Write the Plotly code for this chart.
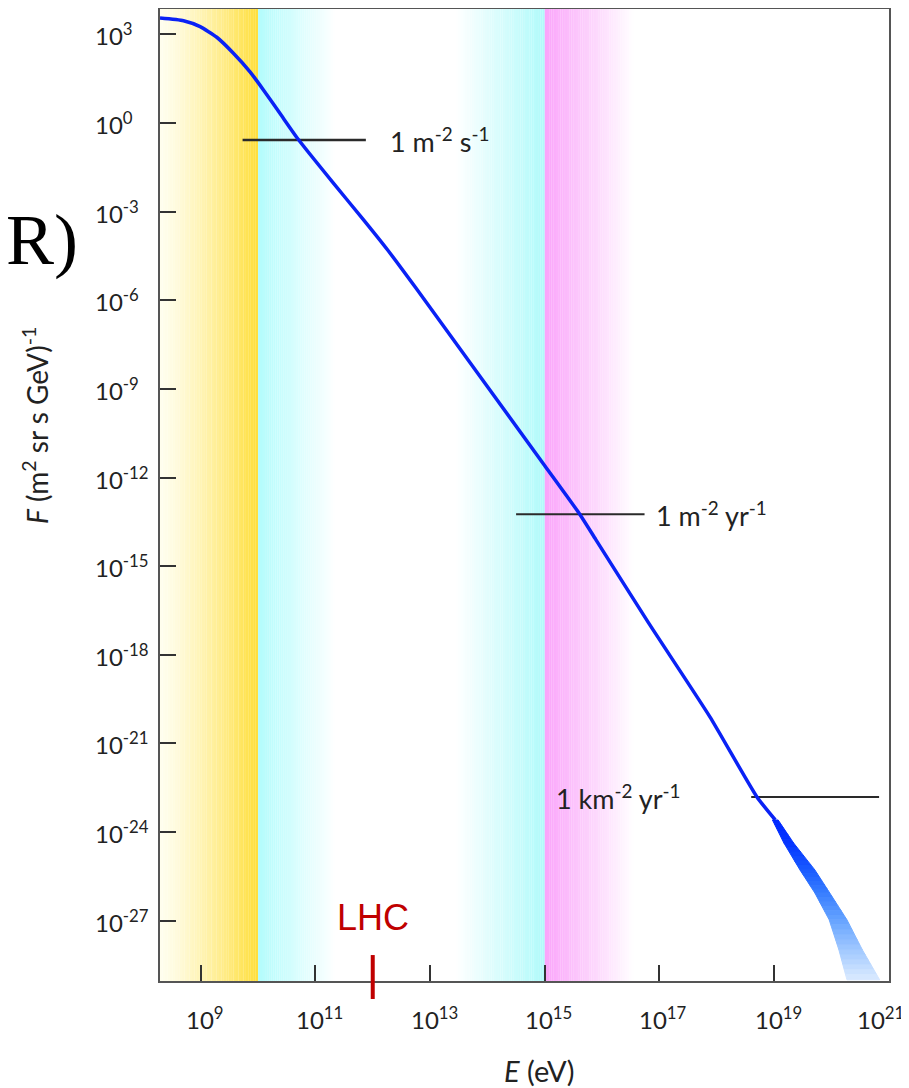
import plotly.graph_objects as go

# ---------------- data (log10 units) ----------------
# main cosmic-ray flux curve: log10(E/eV), log10(F)
curve_logE = [8.29, 8.70, 8.99, 9.28, 9.57, 9.86, 10.10, 10.39, 10.71, 11.31,
              11.84, 12.26, 12.75, 15.00, 15.61, 15.89, 16.81, 17.88, 18.70, 19.02]
curve_logF = [3.55, 3.46, 3.26, 2.90, 2.36, 1.73, 1.10, 0.30, -0.58, -2.03,
              -3.28, -4.30, -5.58, -11.60, -13.24, -14.10, -16.92, -20.10, -22.81, -23.59]

# uncertainty wedge at highest energies (flux levels, lower/upper energy bounds)
tail_logF = [-23.59, -24.37, -25.28, -26.06, -26.97, -27.99, -29.00]
tail_logE_lo = [18.97, 19.17, 19.45, 19.71, 19.96, 20.13, 20.27]
tail_logE_hi = [19.07, 19.34, 19.71, 19.97, 20.27, 20.54, 20.84]

# reference flux lines
ref_labels = ["1 m<sup>-2</sup> s<sup>-1</sup>", "1 m<sup>-2</sup> yr<sup>-1</sup>",
              "1 km<sup>-2</sup> yr<sup>-1</sup>"]
ref_logF = [-0.58, -13.24, -22.81]
ref_logE_start = [9.73, 14.50, 18.60]
ref_logE_end = [11.88, 16.74, 20.83]

# energy regions (log10 E)
band_edges = [8.29, 10.0, 11.35, 13.45, 15.0, 16.55]

# LHC marker
lhc_logE = 12.0

x_tick_exp = [9, 11, 13, 15, 17, 19, 21]
y_tick_exp = [3, 0, -3, -6, -9, -12, -15, -18, -21, -24, -27]

x_range = [8.29, 21.003]
y_range = [-29.04, 3.856]


def p10(v):
    return 10.0 ** float(v)


# ---------------- figure ----------------
FONT = "Lato, Open Sans, sans-serif"
TXT = "#222"
fig = go.Figure()


def lerp_color(c0, c1, t):
    return "rgb(%d,%d,%d)" % tuple(round(a + (b - a) * t) for a, b in zip(c0, c1))


def gradient(e0, e1, c0, c1, n=40, gamma=1.0):
    for i in range(n):
        a = e0 + (e1 - e0) * i / n
        b = e0 + (e1 - e0) * (i + 1.05) / n
        t = ((i + 0.5) / n) ** gamma
        fig.add_shape(type="rect", xref="x", yref="paper", x0=p10(a), x1=p10(min(b, e1)),
                      y0=0, y1=1, fillcolor=lerp_color(c0, c1, t), line_width=0, layer="below")


WHITE = (255, 255, 255)
gradient(band_edges[0], band_edges[1], (255, 254, 238), (255, 222, 58), gamma=1.3)
gradient(band_edges[1], band_edges[2], (178, 252, 252), WHITE)
gradient(band_edges[3], band_edges[4], WHITE, (176, 250, 250))
gradient(band_edges[4], band_edges[5], (250, 164, 250), WHITE)

# reference lines
for i in range(len(ref_logF)):
    fig.add_trace(go.Scatter(
        x=[p10(ref_logE_start[i]), p10(ref_logE_end[i])],
        y=[p10(ref_logF[i])] * 2, mode="lines",
        line=dict(color="#2a2a2a", width=2.5 if i == 0 else 2), hoverinfo="skip", showlegend=False))

# tail wedge with fading colour
wedge_cols = [(0, 40, 255), (5, 52, 255), (25, 90, 255), (55, 125, 255),
              (100, 162, 255), (160, 200, 255), (218, 234, 255)]
sub = 6
for k in range(len(tail_logF) - 1):
    for j in range(sub):
        t0, t1 = j / sub, (j + 1) / sub
        f0 = tail_logF[k] + (tail_logF[k + 1] - tail_logF[k]) * t0
        f1 = tail_logF[k] + (tail_logF[k + 1] - tail_logF[k]) * t1
        h0 = tail_logE_hi[k] + (tail_logE_hi[k + 1] - tail_logE_hi[k]) * t0
        h1 = tail_logE_hi[k] + (tail_logE_hi[k + 1] - tail_logE_hi[k]) * t1
        l0 = tail_logE_lo[k] + (tail_logE_lo[k + 1] - tail_logE_lo[k]) * t0
        l1 = tail_logE_lo[k] + (tail_logE_lo[k + 1] - tail_logE_lo[k]) * t1
        col = lerp_color(wedge_cols[k], wedge_cols[k + 1], (j + 0.5) / sub)
        fig.add_trace(go.Scatter(
            x=[p10(l0), p10(h0), p10(h1), p10(l1), p10(l0)],
            y=[p10(f0), p10(f0), p10(f1), p10(f1), p10(f0)],
            mode="lines", fill="toself", fillcolor=col, line=dict(width=1, color=col),
            hoverinfo="skip", showlegend=False))

# main curve
fig.add_trace(go.Scatter(
    x=[p10(v) for v in curve_logE], y=[p10(v) for v in curve_logF],
    mode="lines", line=dict(color="#0a22f5", width=3.5, shape="spline", smoothing=0.5),
    hoverinfo="skip", showlegend=False))

# ref labels
ref_label_x = [12.26, 16.91, 17.39]
ref_label_anchor = ["left", "left", "right"]
for i in range(len(ref_labels)):
    fig.add_annotation(x=ref_label_x[i], y=ref_logF[i], xref="x", yref="y",
                       text=ref_labels[i], showarrow=False, xanchor=ref_label_anchor[i],
                       yanchor="middle", font=dict(family=FONT, size=27, color=TXT))

# tick labels (y labels are left-aligned in the original)
for e in y_tick_exp:
    fig.add_annotation(x=-0.0919, y=e, xref="paper", yref="y", text="10<sup>%d</sup>" % e,
                       showarrow=False, xanchor="left", yanchor="middle",
                       font=dict(family=FONT, size=24, color=TXT))
for e in x_tick_exp:
    fig.add_annotation(x=e, y=-0.038, xref="x", yref="paper", text="10<sup>%d</sup>" % e,
                       showarrow=False, xanchor="center", yanchor="middle",
                       xshift=-8 if e == x_tick_exp[-1] else 4,
                       font=dict(family=FONT, size=24, color=TXT))

# LHC
fig.add_shape(type="line", xref="x", yref="paper", x0=p10(lhc_logE), x1=p10(lhc_logE),
              y0=0.0267, y1=-0.0185, line=dict(color="#c00000", width=4))
fig.add_annotation(x=lhc_logE, y=0.065, xref="x", yref="paper", text="LHC", showarrow=False,
                   xanchor="center", yanchor="middle",
                   font=dict(family="Liberation Sans, Arial, sans-serif", size=36, color="#c00000"))

# axis titles
fig.add_annotation(x=-0.1715, y=0.572, xref="paper", yref="paper", textangle=-90,
                   xanchor="center", yanchor="middle",
                   text="<i>F</i> (m<sup>2</sup> sr s GeV)<sup>-1</sup>", showarrow=False,
                   font=dict(family=FONT, size=28, color=TXT))
fig.add_annotation(x=0.521, y=-0.0925, xref="paper", yref="paper",
                   xanchor="center", yanchor="middle",
                   text="<i>E</i> (eV)", showarrow=False,
                   font=dict(family=FONT, size=29, color=TXT))

# cut-off slide title fragment
fig.add_annotation(x=-0.1097, y=0.7625, xref="paper", yref="paper", text="ER)",
                   showarrow=False, xanchor="right", yanchor="middle",
                   font=dict(family="Liberation Serif, Times New Roman, serif", size=72, color="#000"))

axis_common = dict(showline=True, mirror=True, linecolor="#555", linewidth=2,
                   ticks="inside", ticklen=16, tickwidth=2, tickcolor="#333",
                   showgrid=False, zeroline=False, automargin=False, showticklabels=False)

fig.update_xaxes(type="log", range=x_range,
                 tickvals=[p10(e) for e in x_tick_exp], **axis_common)
fig.update_yaxes(type="log", range=y_range,
                 tickvals=[p10(e) for e in y_tick_exp], **axis_common)

# the page adds an 8px body margin, so the figure is offset by 8px in the window
fig.update_layout(width=901, height=1080, margin=dict(l=152, r=20, t=1, b=107),
                  plot_bgcolor="white", paper_bgcolor="white", showlegend=False)

fig.write_html("out.html")
